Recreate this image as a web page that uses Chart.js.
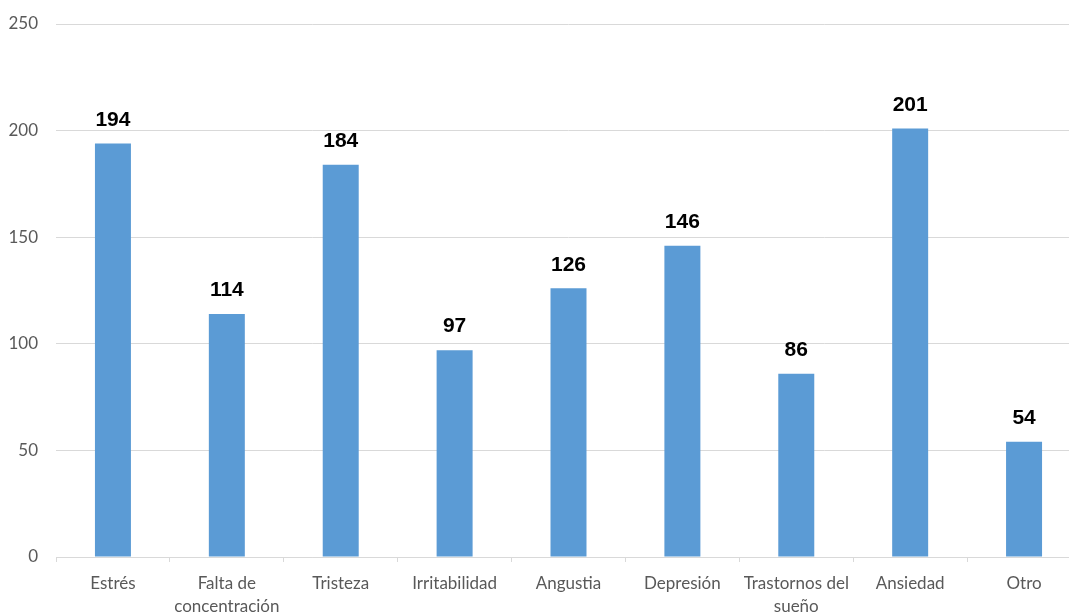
<!DOCTYPE html>
<html>
<head>
<meta charset="utf-8">
<script src="https://cdn.jsdelivr.net/npm/chart.js@4"></script>
<style>
  html, body { margin:0; padding:0; background:#fff; overflow:hidden; }
  #wrap { width:1090px; height:616px; }
</style>
</head>
<body>
<div id="wrap"><canvas id="chart"></canvas></div>
<script>
// === Datos ===
const categorias = ["Estrés", ["Falta de", "concentración"], "Tristeza", "Irritabilidad", "Angustia", "Depresión", ["Trastornos del", "sueño"], "Ansiedad", "Otro"];
const valores = [194, 114, 184, 97, 126, 146, 86, 201, 54];
const yMax = 250;
const yPaso = 50;

const gris = "#595959";
const azul = "#5B9BD5";

// etiquetas encima de las barras
const etiquetas = {
  id: "etiquetas",
  afterDatasetsDraw(chart){
    const ctx = chart.ctx;
    const meta = chart.getDatasetMeta(0);
    ctx.save();
    ctx.font = "bold 21px 'Liberation Sans', Arial, sans-serif";
    ctx.fillStyle = "#000";
    ctx.textAlign = "center";
    ctx.textBaseline = "bottom";
    meta.data.forEach((bar, i)=>{
      ctx.fillText(valores[i], bar.x, bar.y - 13);
    });
    ctx.restore();
  }
};

new Chart(document.getElementById("chart"), {
  type: "bar",
  data: {
    labels: categorias,
    datasets: [{ data: valores, backgroundColor: azul, categoryPercentage: 1, barPercentage: 0.316 }]
  },
  options: {
    responsive: true,
    maintainAspectRatio: false,
    animation: false,
    layout: { padding: { top: 24, left: 0, right: 9, bottom: 0 } },
    plugins: { legend: { display: false }, tooltip: { enabled: false } },
    scales: {
      x: {
        grid: { display: true, drawOnChartArea: false, color: "#d9d9d9", tickLength: 5, offset: true },
        border: { color: "#d9d9d9" },
        ticks: { color: gris, font: { family: "Lato", size: 17, lineHeight: 1.35 }, padding: 10, maxRotation: 0, autoSkip: false },
        afterFit(scale){ scale.height = 59; scale.paddingLeft = 0; scale.paddingRight = 0; }
      },
      y: {
        min: 0, max: yMax,
        ticks: { stepSize: yPaso, color: gris, font: { family: "Lato", size: 17 }, padding: 18 },
        grid: { color: "#d9d9d9", drawTicks: false },
        border: { display: false },
        afterFit(scale){ scale.width = 56; scale.paddingTop = 0; scale.paddingBottom = 0; }
      }
    }
  },
  plugins: [etiquetas]
});
</script>
</body>
</html>
